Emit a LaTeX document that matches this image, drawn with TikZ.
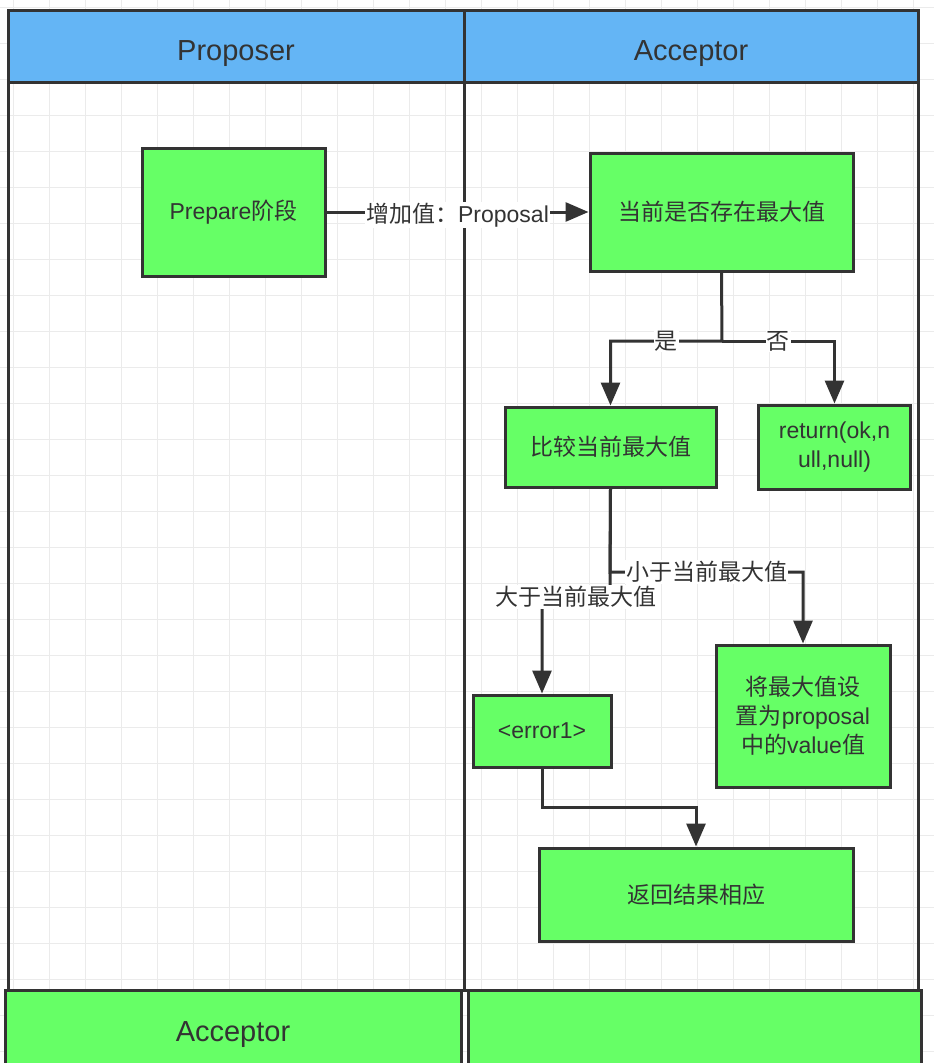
\documentclass[tikz,border=0pt]{standalone}
\usepackage{fontspec}
\setmainfont{Liberation Sans}
\newfontfamily\cjk{Noto Sans CJK SC}
\usetikzlibrary{arrows.meta}
\definecolor{boxgreen}{HTML}{66FF66}
\definecolor{headblue}{HTML}{64B5F5}
\definecolor{ink}{HTML}{333333}
\definecolor{gridc}{HTML}{EBEBEB}
\tikzset{
  stepbox/.style={draw=ink, fill=boxgreen, line width=3pt, text=ink, align=center, inner sep=0pt,
    font=\fontsize{23}{29}\selectfont},
  arr/.style={draw=ink, line width=3pt, -{Triangle[length=23pt,width=19pt]}},
  lbl/.style={fill=white, text=ink, inner sep=1pt, font=\fontsize{23}{26}\selectfont},
  lane/.style={draw=ink, line width=3pt},
  headtext/.style={text=ink, font=\fontsize{29}{32}\selectfont}
}
\begin{document}
\begin{tikzpicture}[x=1pt,y=-1pt]
\useasboundingbox (0,0) rectangle (934,1063);
\fill[white] (0,0) rectangle (934,1063);
\foreach \x in {13,49,...,934} \draw[gridc, line width=1pt] (\x,0) -- (\x,1063);
\foreach \y in {7,43,...,1063} \draw[gridc, line width=1pt] (0,\y) -- (934,\y);
% header
\fill[headblue] (8,10) rectangle (918,82);
\draw[lane] (8,10) rectangle (918,990);
\draw[lane] (8,82) -- (918,82);
\draw[lane] (464,10) -- (464,990);
\node[headtext] (hp) at (236,54) {Proposer};
\node[headtext] (ha) at (691,54) {Acceptor};
% bottom lanes
\node[stepbox, minimum width=456pt, minimum height=90pt, font=\fontsize{29}{32}\selectfont] (bl) at (233,1035) {\raisebox{1pt}{Acceptor}};
\node[stepbox, minimum width=453pt, minimum height=90pt] (br) at (694.5,1035) {};
% nodes
\node[stepbox, minimum width=183pt, minimum height=128pt] (prep) at (233.5,212) {\raisebox{-3pt}{Prepare{\cjk 阶段}}};
\node[stepbox, minimum width=263pt, minimum height=118pt] (cur) at (721.5,212) {\raisebox{-3pt}{\cjk 当前是否存在最大值}};
\node[stepbox, minimum width=211pt, minimum height=80pt] (cmp) at (610.5,447) {\raisebox{-3pt}{\cjk 比较当前最大值}};
\node[stepbox, minimum width=152pt, minimum height=84pt] (ret) at (834.5,447) {return(ok,n\\ull,null)};
\node[stepbox, minimum width=138pt, minimum height=72pt] (err) at (542,731) {\raisebox{-3pt}{<error1>}};
\node[stepbox, minimum width=174pt, minimum height=142pt] (set) at (803,716) {{\cjk 将最大值设}\\{\cjk 置为}proposal\\{\cjk 中的}value{\cjk 值}};
\node[stepbox, minimum width=314pt, minimum height=93pt] (res) at (696,894.5) {\raisebox{-3pt}{\cjk 返回结果相应}};
% connectors
\draw[arr] (prep.east) -- node[lbl, yshift=-3pt] {{\cjk 增加值：}Proposal} (cur.west);
\coordinate (s1) at (722,341);
\draw[arr] (cur.south) -- (s1) -| node[lbl, pos=0.25] {\cjk 是} (cmp.north);
\draw[arr] (s1) -| node[lbl, pos=0.25] {\cjk 否} (ret.north);
\coordinate (s2) at (610,597);
\coordinate (s3) at (610,572);
\draw[arr] (cmp.south) -- (s2) -| node[lbl, pos=0.25] {\cjk 大于当前最大值} (err.north);
\draw[arr] (cmp.south) -- (s3) -| node[lbl, pos=0.25] {\cjk 小于当前最大值} (set.north);
\coordinate (s4) at (542,807);
\draw[arr] (err.south) -- (s4) -| (res.north);
\end{tikzpicture}
\end{document}
